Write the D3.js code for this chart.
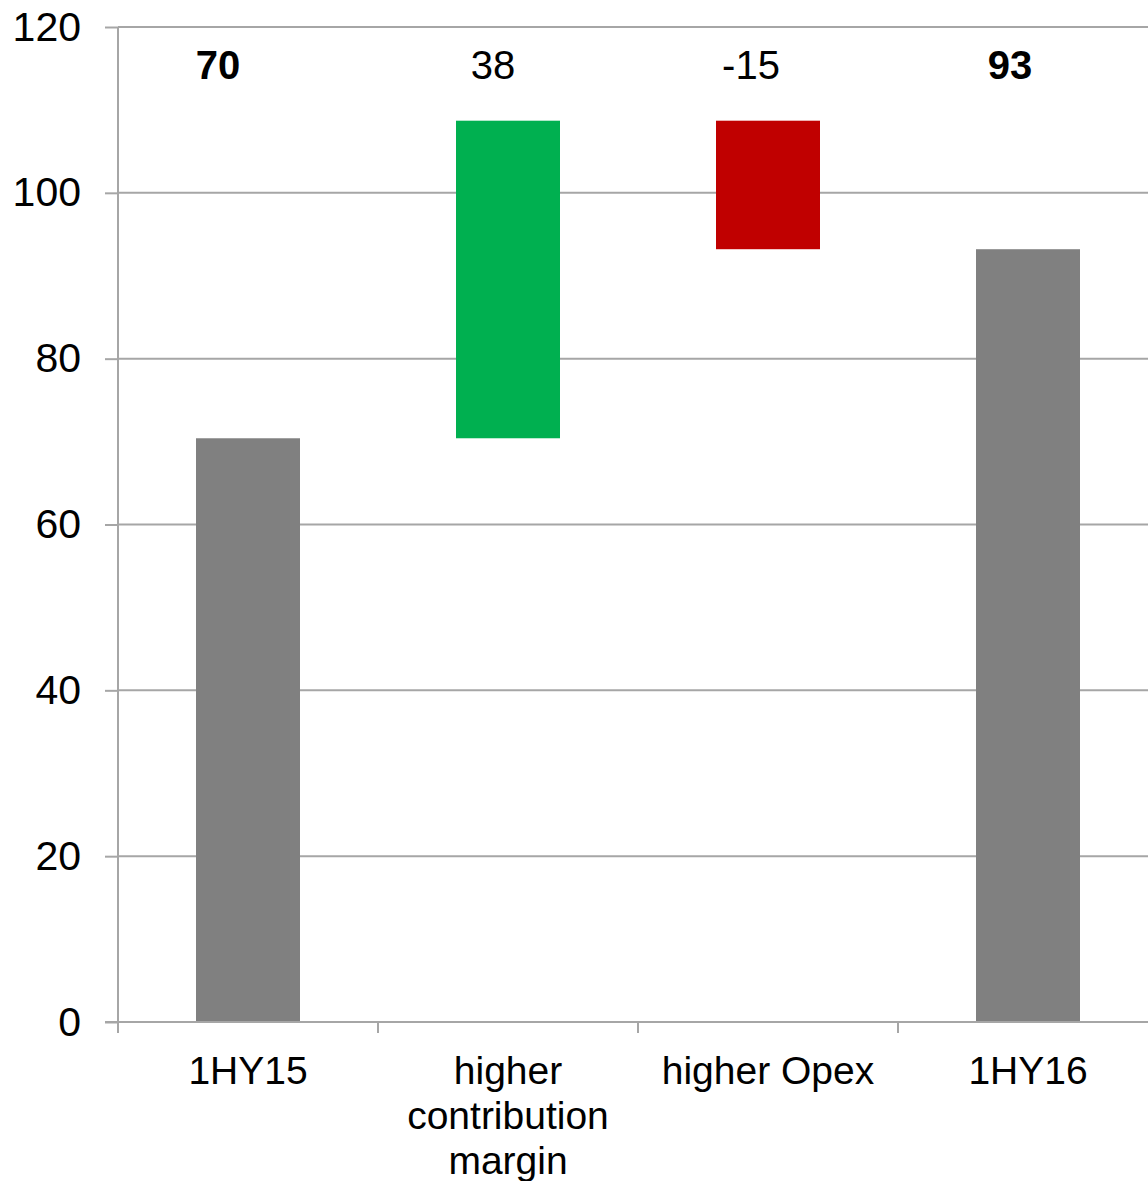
<!DOCTYPE html>
<html><head><meta charset="utf-8">
<script src="https://cdn.jsdelivr.net/npm/d3@7"></script>
<style>body{margin:0;background:#fff}svg{display:block}text{font-family:"Liberation Sans",Arial,sans-serif;fill:#000}</style>
</head><body>
<script>
const categories = ["1HY15", "higher contribution margin", "higher Opex", "1HY16"];
const labelLines = [["1HY15"], ["higher", "contribution", "margin"], ["higher Opex"], ["1HY16"]];
const barBase = [0, 70.4, 93.2, 0];
const barTop = [70.4, 108.7, 108.7, 93.2];
const valueLabels = ["70", "38", "-15", "93"];
const labelBold = [true, false, false, true];
const barColors = ["#808080", "#00B050", "#C00000", "#808080"];
const yTicks = [0, 20, 40, 60, 80, 100, 120];

const W = 1148, H = 1181;
const m = {left: 118, top: 27, bottom: 159};
const plotRight = 1158;
const svg = d3.select("body").append("svg").attr("width", W).attr("height", H);

const x = d3.scaleBand().domain(categories).range([m.left, plotRight]).paddingInner(0.6).paddingOuter(0.3);
const xb = d3.scaleBand().domain(categories).range([m.left, plotRight]);
const y = d3.scaleLinear().domain([0, 120]).range([H - m.bottom, m.top]);

// gridlines
svg.append("g").selectAll("line").data(yTicks.filter(d => d > 0)).join("line")
  .attr("x1", m.left).attr("x2", plotRight)
  .attr("y1", d => y(d)).attr("y2", d => y(d))
  .attr("stroke", "#A6A6A6").attr("stroke-width", 2);

// bars
svg.append("g").selectAll("rect").data(categories).join("rect")
  .attr("x", d => x(d)).attr("width", x.bandwidth())
  .attr("y", (d, i) => y(barTop[i]))
  .attr("height", (d, i) => y(barBase[i]) - y(barTop[i]))
  .attr("fill", (d, i) => barColors[i]);

// y axis
const yAxis = svg.append("g").attr("transform", `translate(${m.left},0)`)
  .call(d3.axisLeft(y).tickValues(yTicks).tickSize(13).tickPadding(24));
yAxis.select(".domain").attr("stroke", "#A6A6A6").attr("stroke-width", 2).attr("d", `M0,${y(0)}V${y(120)}`);
yAxis.selectAll(".tick line").attr("stroke", "#A6A6A6").attr("stroke-width", 2);
yAxis.selectAll(".tick text").attr("font-size", 41).attr("font-family", "Liberation Sans, Arial, sans-serif").attr("fill", "#000");

// x axis
const xg = svg.append("g").attr("transform", `translate(0,${y(0)})`);
xg.append("line").attr("x1", m.left - 13).attr("x2", plotRight).attr("y1", 0).attr("y2", 0)
  .attr("stroke", "#A6A6A6").attr("stroke-width", 2);
xg.selectAll(".xt").data(categories).join("line").attr("class", "xt")
  .attr("x1", d => xb(d)).attr("x2", d => xb(d)).attr("y1", 0).attr("y2", 11)
  .attr("stroke", "#A6A6A6").attr("stroke-width", 2);
xg.selectAll(".xl").data(categories).join("text").attr("class", "xl")
  .attr("text-anchor", "middle").attr("font-size", 39)
  .attr("x", d => x(d) + x.bandwidth() / 2)
  .attr("y", 62)
  .each(function(d, i) {
    d3.select(this).selectAll("tspan").data(labelLines[i]).join("tspan")
      .attr("x", x(d) + x.bandwidth() / 2)
      .attr("dy", (t, j) => j === 0 ? 0 : 45)
      .text(t => t);
  });

// value labels
const labelShift = [-30, -15, -17, -18];
svg.append("g").selectAll("text").data(categories).join("text")
  .attr("text-anchor", "middle").attr("font-size", 40)
  .attr("font-weight", (d, i) => labelBold[i] ? "bold" : "normal")
  .attr("x", (d, i) => x(d) + x.bandwidth() / 2 + labelShift[i])
  .attr("y", 79)
  .text((d, i) => valueLabels[i]);
</script>
</body></html>
